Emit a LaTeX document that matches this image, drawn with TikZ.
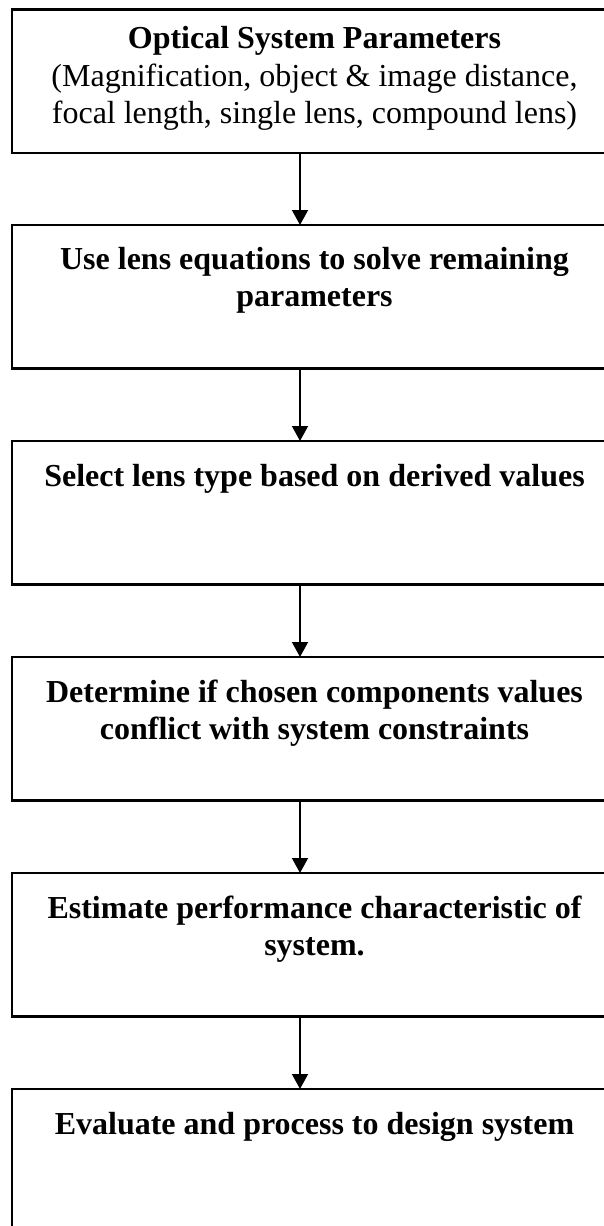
\documentclass[tikz,border=0pt]{standalone}
\usepackage{fontspec}
\setmainfont{Liberation Serif}
\usetikzlibrary{arrows.meta}
\begin{document}
\begin{tikzpicture}[x=1pt,y=1pt,
  stepbox/.style={draw,line width=2.2pt,rectangle,minimum width=608pt,minimum height=143.5pt,inner sep=0pt,outer sep=0pt,anchor=north west},
  txt/.style={align=center,inner sep=0pt,anchor=north,font=\fontsize{32}{37.5}\selectfont},
  btxt/.style={txt,font=\fontsize{32}{37.5}\selectfont\bfseries},
  arr/.style={line width=1.5pt,-{Triangle[width=16pt,length=15pt]}}]
\useasboundingbox (0,0) rectangle (604,-1226);
\clip (0,0) rectangle (604,-1226);
\coordinate (ax) at (300,0);
\node[stepbox] (b1) at (12,-9.5) {};
\node[stepbox] (b2) at (12,-225) {};
\node[stepbox] (b3) at (12,-441) {};
\node[stepbox] (b4) at (12,-657) {};
\node[stepbox] (b5) at (12,-873) {};
\node[stepbox,minimum height=200pt] (b6) at (12,-1089) {};
\node[txt] (t1) at ([xshift=-1.5pt,yshift=-9pt]b1.north) {\rule{0pt}{30pt}\textbf{Optical System Parameters}\\(Magnification, object \& image distance,\\focal length, single lens, compound lens)};
\node[btxt] (t2) at ([xshift=-1.5pt,yshift=-14pt]b2.north) {\rule{0pt}{30pt}Use lens equations to solve remaining\\parameters};
\node[btxt] (t3) at ([xshift=-1.5pt,yshift=-15pt]b3.north) {\rule{0pt}{30pt}Select lens type based on derived values};
\node[btxt] (t4) at ([xshift=-1.5pt,yshift=-15pt]b4.north) {\rule{0pt}{30pt}Determine if chosen components values\\conflict with system constraints};
\node[btxt] (t5) at ([xshift=-1.5pt,yshift=-15pt]b5.north) {\rule{0pt}{30pt}Estimate performance characteristic of\\system.};
\node[btxt] (t6) at ([xshift=-1.5pt,yshift=-15pt]b6.north) {\rule{0pt}{30pt}Evaluate and process to design system};
\draw[arr] (b1.south -| ax) -- (b2.north -| ax);
\draw[arr] (b2.south -| ax) -- (b3.north -| ax);
\draw[arr] (b3.south -| ax) -- (b4.north -| ax);
\draw[arr] (b4.south -| ax) -- (b5.north -| ax);
\draw[arr] (b5.south -| ax) -- (b6.north -| ax);
\end{tikzpicture}
\end{document}
